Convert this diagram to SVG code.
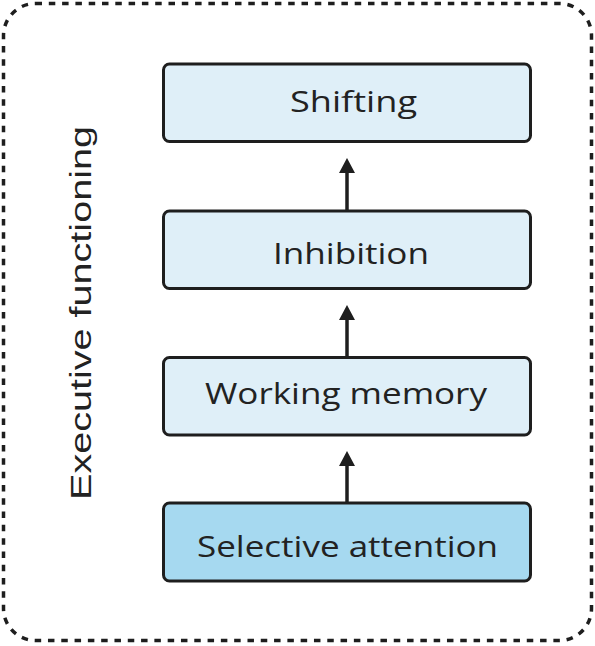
<svg xmlns="http://www.w3.org/2000/svg" width="595" height="646" viewBox="0 0 595 646">
<defs>
<style>
.box{stroke:#1e1e1e;stroke-width:3;}
.light{fill:#dfeff8;}
.dark{fill:#a6d9f0;}
.lbl{font-family:"Open Sans","Liberation Sans",sans-serif;font-size:29px;fill:#222;text-anchor:middle;}
.conn{stroke:#1e1e1e;stroke-width:3.5;fill:none;}
.head{fill:#1e1e1e;}
</style>
</defs>
<rect width="595" height="646" fill="#fff"/>
<g id="frame">
<rect x="3.5" y="3.5" width="588" height="637" rx="32" fill="none" stroke="#1e1e1e" stroke-width="3.5" stroke-dasharray="6.5 6.8"/>
<text transform="translate(91,500) rotate(-90)" font-family="Liberation Sans, Arial, sans-serif" font-size="30" fill="#222" textLength="374" lengthAdjust="spacingAndGlyphs">Executive functioning</text>
</g>
<g id="connectors">
<line class="conn" x1="347" y1="210" x2="347" y2="170"/>
<polygon class="head" points="347,158 339,173 355,173"/>
<line class="conn" x1="347" y1="357" x2="347" y2="317"/>
<polygon class="head" points="347,305 339,320 355,320"/>
<line class="conn" x1="347" y1="502" x2="347" y2="463"/>
<polygon class="head" points="347,451 339,466 355,466"/>
</g>
<g id="shifting">
<rect class="box light" x="163.5" y="64" width="367" height="77.5" rx="6"/>
<text class="lbl" x="353.5" y="112" textLength="127" lengthAdjust="spacingAndGlyphs">Shifting</text>
</g>
<g id="inhibition">
<rect class="box light" x="163.5" y="211" width="367" height="77.5" rx="6"/>
<text class="lbl" x="351" y="264" textLength="156" lengthAdjust="spacingAndGlyphs">Inhibition</text>
</g>
<g id="working-memory">
<rect class="box light" x="163.5" y="357.5" width="367" height="77.5" rx="6"/>
<text class="lbl" x="346" y="404" textLength="282" lengthAdjust="spacingAndGlyphs">Working memory</text>
</g>
<g id="selective-attention">
<rect class="box dark" x="163.5" y="503" width="367" height="78" rx="6"/>
<text class="lbl" x="347.5" y="557" textLength="301" lengthAdjust="spacingAndGlyphs">Selective attention</text>
</g>
</svg>
